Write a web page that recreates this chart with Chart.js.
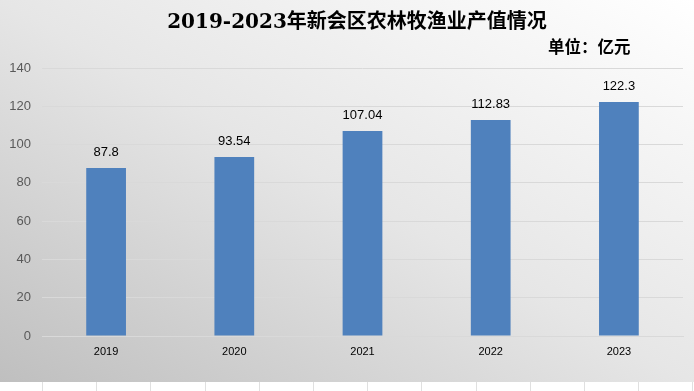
<!DOCTYPE html>
<html>
<head>
<meta charset="utf-8">
<script src="https://cdn.jsdelivr.net/npm/chart.js@4.4.1/dist/chart.umd.min.js"></script>
<style>
  html, body { margin: 0; padding: 0; background: #fff; }
  #wrap { position: relative; width: 694px; height: 391px; overflow: hidden; }
  #panel {
    position: absolute; left: 0; top: 0; width: 694px; height: 382px;
    background: linear-gradient(to top right, #bfbfbf 0%, #e6e6e6 50%, #ffffff 100%);
  }
  #cells {
    position: absolute; left: 0; top: 382px; width: 694px; height: 9px;
    background: repeating-linear-gradient(to right, transparent 0, transparent 42px, #e0e0e0 42px, #e0e0e0 43px, transparent 43px, transparent 54.2px);
  }
  #title {
    position: absolute; left: 20px; top: 5px; width: 674px; text-align: center;
    font: bold 20px "DejaVu Serif", "Noto Sans CJK SC", serif; color: #000;
  }
  #unit {
    position: absolute; left: 548px; top: 34px;
    font: bold 16.5px "Noto Sans CJK SC", sans-serif; color: #000;
  }
  #c { position: absolute; left: 0; top: 0; }
</style>
</head>
<body>
<div id="wrap">
  <div id="panel"></div>
  <div id="cells"></div>
  <canvas id="c" width="694" height="382"></canvas>
  <div id="title">2019-2023年新会区农林牧渔业产值情况</div>
  <div id="unit">单位：亿元</div>
</div>
<script>
(() => {
  'use strict';

  const years = ['2019', '2020', '2021', '2022', '2023'];
  const values = [87.8, 93.54, 107.04, 112.83, 122.3];
  const yTicks = [0, 20, 40, 60, 80, 100, 120, 140];

  const barLabels = {
    id: 'barLabels',
    afterDatasetsDraw(chart) {
      const ctx = chart.ctx;
      const meta = chart.getDatasetMeta(0);
      ctx.save();
      ctx.font = '13px "Liberation Sans", Arial, sans-serif';
      ctx.fillStyle = '#000';
      ctx.textAlign = 'center';
      ctx.textBaseline = 'bottom';
      meta.data.forEach((bar, i) => {
        ctx.fillText(String(values[i]), bar.x, bar.y - 9);
      });
      ctx.restore();
    }
  };

  new Chart(document.getElementById('c'), {
    type: 'bar',
    data: {
      labels: years,
      datasets: [{
        data: values,
        backgroundColor: '#4f81bd',
        barPercentage: 0.62,
        categoryPercentage: 0.5
      }]
    },
    options: {
      responsive: false,
      animation: false,
      layout: { padding: { top: 68, right: 11, left: 0, bottom: 0 } },
      plugins: { legend: { display: false }, tooltip: { enabled: false } },
      scales: {
        x: {
          grid: { display: false, drawTicks: false },
          border: { color: '#d9d9d9', width: 1 },
          ticks: {
            color: '#000',
            font: { family: '"Liberation Sans", Arial, sans-serif', size: 11 },
            padding: 9
          },
          afterFit(scale) { scale.height = 46; }
        },
        y: {
          min: 0, max: 140,
          afterBuildTicks(scale) { scale.ticks = yTicks.map(v => ({ value: v })); },
          grid: { color: '#d9d9d9', drawTicks: false },
          border: { display: false },
          ticks: {
            color: '#595959',
            font: { family: '"Liberation Sans", Arial, sans-serif', size: 13 },
            padding: 11
          },
          afterFit(scale) { scale.width = 42; }
        }
      }
    },
    plugins: [barLabels]
  });
})();
</script>
</body>
</html>
